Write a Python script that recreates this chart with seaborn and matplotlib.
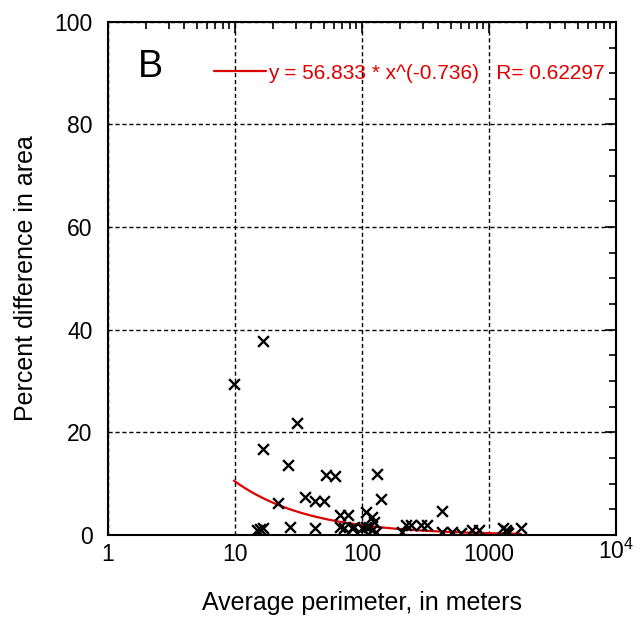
import matplotlib
matplotlib.use("Agg")
import matplotlib.pyplot as plt
import matplotlib.ticker as mticker
import matplotlib.transforms as mtransforms
import seaborn as sns
import numpy as np
import pandas as pd

# data (perimeter in m, percent difference)
perimeter = [9.8, 16.6, 16.6, 30.6, 26.0, 21.7, 35.4, 42.4, 49.9, 51.8,
             60.9, 66.6, 77.0, 108, 132, 140, 119, 125, 15.7, 15.0,
             16.6, 27.0, 42.4, 66.6, 72.8, 84, 100, 108, 120, 129,
             223, 244, 292, 207, 428, 326, 428, 510, 600, 733,
             834, 1360, 1380, 1300, 1420, 1780, 87, 113]
pct_diff = [29.4, 37.8, 16.8, 21.8, 13.6, 6.2, 7.4, 6.6, 6.6, 11.7,
            11.5, 3.9, 3.9, 4.5, 11.9, 7.0, 3.5, 2.5, 1.2, 1.0,
            1.4, 1.6, 1.4, 1.6, 1.4, 1.4, 1.4, 1.6, 1.0, 0.6,
            2.0, 2.0, 2.0, 0.6, 4.7, 2.0, 0.6, 0.6, 0.4, 1.0,
            1.0, 1.0, 0.6, 1.4, 0.4, 1.4, 1.6, 1.6]

fit_a = 56.833
fit_b = -0.736
fit_r = 0.62297

df = pd.DataFrame({"perimeter": perimeter, "pct": pct_diff})

sns.set_style("white")
plt.rcParams["font.family"] = ["Liberation Sans", "DejaVu Sans"]
plt.rcParams["mathtext.default"] = "regular"
plt.rcParams["text.color"] = "black"
plt.rcParams["axes.labelcolor"] = "black"
plt.rcParams["xtick.color"] = "black"
plt.rcParams["ytick.color"] = "black"

fig = plt.figure(figsize=(6.41, 6.25), dpi=100)
ax = fig.add_axes([0.1685, 0.144, 0.7925, 0.821])

xs = np.logspace(np.log10(min(perimeter)), np.log10(max(perimeter)), 200)
ax.plot(xs, fit_a * xs ** fit_b, color="#e00000", lw=1.6, zorder=2,
        label=f"y = {fit_a} * x^({fit_b})   R= {fit_r}")

sns.scatterplot(data=df, x="perimeter", y="pct", marker="x", color="black",
                s=60, linewidth=1.7, ax=ax, zorder=3)

ax.set_xscale("log")
ax.set_xlim(1, 1e4)
ax.set_ylim(0, 100)
ax.set_xticks([1, 10, 100, 1000, 10000])
ax.set_xticklabels(["1", "10", "100", "1000", "$10^4$"])
ax.xaxis.set_minor_locator(mticker.LogLocator(base=10, subs=np.arange(2, 10)))
ax.xaxis.set_minor_formatter(mticker.NullFormatter())
ax.set_yticks([0, 20, 40, 60, 80, 100])
ax.yaxis.set_minor_locator(mticker.MultipleLocator(5))

ax.grid(True, which="major", color="black", linestyle=(0, (3, 2)), lw=1)
ax.tick_params(which="both", direction="in", top=True, right=True,
               labelsize=16.5, color="black", labelcolor="black")
ax.tick_params(which="major", length=8, width=1.2)
ax.tick_params(axis="y", which="major", pad=11)
ax.tick_params(axis="x", which="major", pad=6)
ax.tick_params(which="minor", length=5, width=1.2)
for sp in ax.spines.values():
    sp.set_color("black")
    sp.set_linewidth(1.5)

# lift the 10^4 label so its base lines up with the others
lbl = ax.get_xticklabels()[-1]
lbl.set_transform(lbl.get_transform() +
                  mtransforms.ScaledTranslation(0, 3 / 72, fig.dpi_scale_trans))

ax.set_xlabel("Average perimeter, in meters", fontsize=18, labelpad=18)
ax.set_ylabel("Percent difference in area", fontsize=18, labelpad=12)

ax.text(0.083, 0.912, "B", transform=ax.transAxes, fontsize=27,
        ha="center", va="center")

ax.legend(loc="upper right", bbox_to_anchor=(0.995, 0.935), frameon=False,
          fontsize=15, labelcolor="#e00000", handlelength=2.5,
          handletextpad=0.1, borderaxespad=0)

fig.savefig("out.png", dpi=100)
